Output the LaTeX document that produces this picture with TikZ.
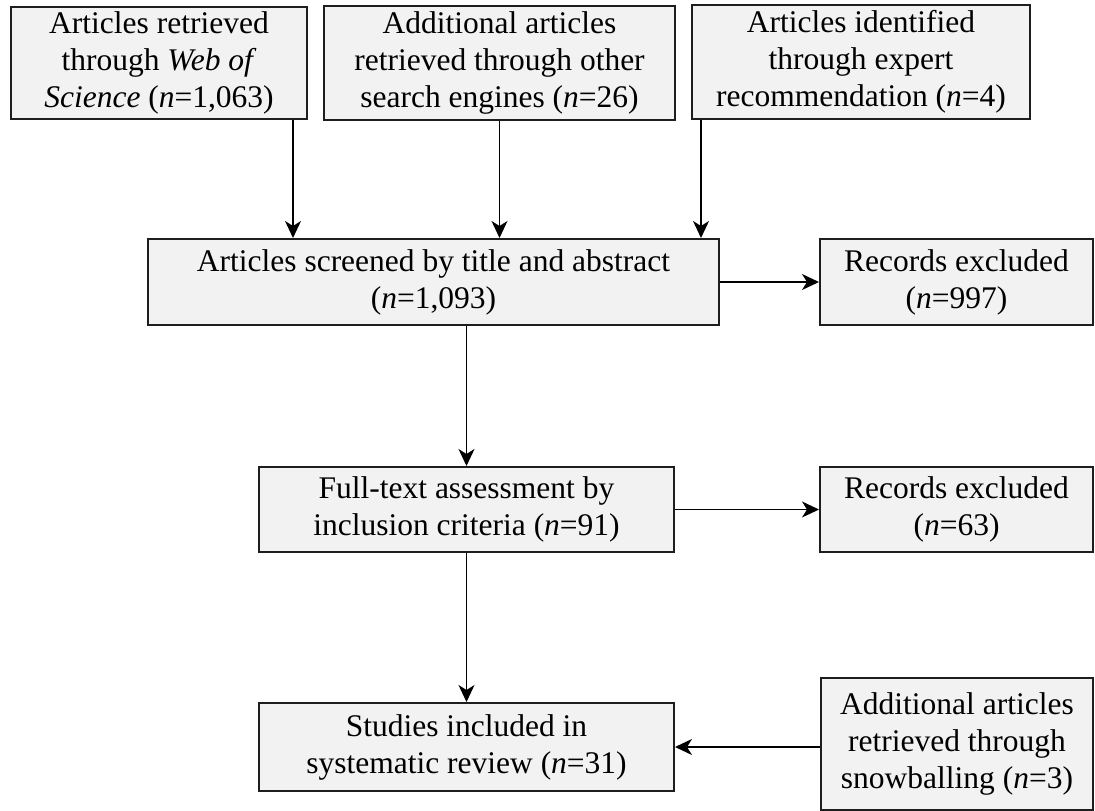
\documentclass[tikz,border=0pt]{standalone}
\usepackage{fontspec}
\setmainfont{Liberation Serif}
\usetikzlibrary{arrows.meta}
\definecolor{boxfill}{HTML}{F2F2F2}
\definecolor{boxline}{HTML}{1E1E1E}
\begin{document}
\begin{tikzpicture}[x=1pt,y=-1pt,
  box/.style={rectangle,draw=boxline,fill=boxfill,line width=2pt,align=center,
    font=\fontsize{31.5}{37}\selectfont,inner sep=0pt},
  arr/.style={draw=black,line width=1.5pt,-{Stealth[length=17pt,width=16pt,inset=5pt]}}]
\useasboundingbox (0,0) rectangle (1095,811);

\node[box,minimum width=296pt,minimum height=112pt] (b1) at (159,63)
  {Articles retrieved\\through \textit{Web of}\\\textit{Science} (\textit{n}=1,063)};
\node[box,minimum width=351pt,minimum height=114pt] (b2) at (499.5,63)
  {Additional articles\\retrieved through other\\search engines (\textit{n}=26)};
\node[box,minimum width=338pt,minimum height=114pt] (b3) at (861,62)
  {Articles identified\\through expert\\recommendation (\textit{n}=4)};

\node[box,minimum width=571pt,minimum height=86pt] (scr) at (433.5,282)
  {Articles screened by title and abstract\\(\textit{n}=1,093)};
\node[box,minimum width=273pt,minimum height=86pt] (rec1) at (956.5,282)
  {Records excluded\\(\textit{n}=997)};

\node[box,minimum width=415pt,minimum height=85pt] (full) at (466.5,509.5)
  {Full-text assessment by\\inclusion criteria (\textit{n}=91)};
\node[box,minimum width=273pt,minimum height=85pt] (rec2) at (956.5,509.5)
  {Records excluded\\(\textit{n}=63)};

\node[box,minimum width=415pt,minimum height=88pt] (stud) at (466.5,747)
  {Studies included in\\systematic review (\textit{n}=31)};
\node[box,minimum width=272pt,minimum height=132pt] (snow) at (957,744)
  {Additional articles\\retrieved through\\snowballing (\textit{n}=3)};

\draw[arr] ([xshift=-15pt]b1.south east) -- ([xshift=-15pt]b1.south east |- scr.north);
\draw[arr] (b2.south) -- (b2.south |- scr.north);
\draw[arr] ([xshift=10pt]b3.south west) -- ([xshift=10pt]b3.south west |- scr.north);
\draw[arr] (scr.east) -- (rec1.west);
\draw[arr] (full.north |- scr.south) -- (full.north);
\draw[arr] (full.east) -- (rec2.west);
\draw[arr] (full.south) -- (stud.north);
\draw[arr] (snow.west |- stud.east) -- (stud.east);
\end{tikzpicture}
\end{document}
